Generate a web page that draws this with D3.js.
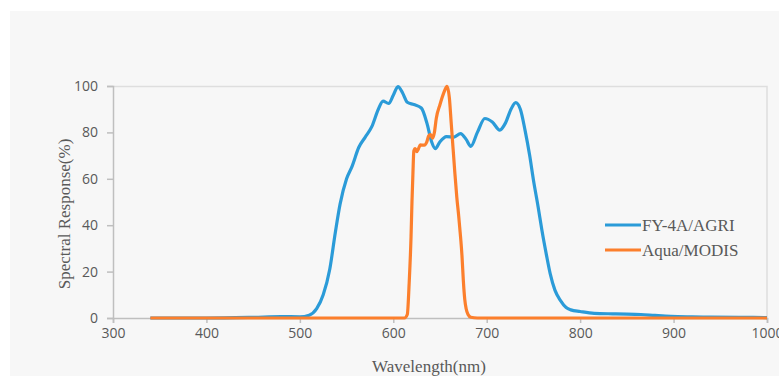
<!DOCTYPE html>
<html>
<head>
<meta charset="utf-8">
<script src="https://cdn.jsdelivr.net/npm/d3@7"></script>
<style>
  body { margin: 0; background: #fff; }
</style>
</head>
<body>
<div id="chart"></div>
<script>
// Wavelength (nm) and spectral response (%)
const agriWave = [340, 400, 450, 480, 500, 510, 518, 525, 532, 538, 543, 550, 556, 563, 570, 577, 584, 589, 595, 600, 605, 610, 615, 622, 630, 636, 641, 645, 650, 657, 665, 672, 678, 683, 690, 698, 706, 714, 720, 726, 731, 736, 741, 746, 750, 755, 759, 764, 768, 773, 779, 785, 790, 800, 815, 835, 850, 865, 880, 897, 920, 940, 970, 1000];
const agriResp = [0, 0, 0.3, 0.6, 0.5, 1.2, 4, 10, 21, 37, 49, 60, 65.5, 73.5, 78, 82.5, 90, 93.5, 92.5, 96, 99.7, 97, 93, 92, 90.5, 84, 76, 73, 76, 78.2, 78, 79.5, 77, 74, 80, 86, 84.5, 81, 84, 90, 92.8, 90, 81, 70, 59.5, 48, 38, 27, 19, 12, 7.5, 4.5, 3.5, 2.8, 2.0, 1.8, 1.7, 1.5, 1.1, 0.7, 0.5, 0.4, 0.3, 0.2];

const modisWave = [340, 400, 500, 600, 612, 615, 617, 619, 620, 621, 622, 623.5, 625, 627, 629, 632, 634, 636, 638, 640, 642, 644, 646, 650, 654, 657.5, 660, 662, 664, 666, 668, 670, 672, 673.5, 675, 676.5, 678, 680, 683, 690, 800, 1000];
const modisResp = [0, 0, 0, 0, 0, 1.5, 15, 35, 50, 62, 72, 73, 71.7, 73, 74.6, 74.5, 74.6, 76, 78.6, 79, 77.5, 80, 86, 92, 97, 99.8, 95, 84, 73, 62, 52, 44, 35, 27, 16, 8, 4, 1.5, 0.3, 0, 0, 0];

const seriesNames = ['FY-4A/AGRI', 'Aqua/MODIS'];
const seriesColors = ['#2b9bd8', '#fc7f2c'];
const xTicks = [300, 400, 500, 600, 700, 800, 900, 1000];
const yTicks = [0, 20, 40, 60, 80, 100];

const width = 779, height = 376;
const margin = { top: 86, right: 12, bottom: 58, left: 113 };
const plotW = width - margin.left - margin.right;
const plotH = height - margin.top - margin.bottom;

const svg = d3.select('#chart').append('svg')
  .attr('width', width)
  .attr('height', height);

// Chart background panel
svg.append('rect')
  .attr('x', 10).attr('y', 11)
  .attr('width', width - 10).attr('height', height - 11)
  .attr('fill', '#f7f7f7');

const g = svg.append('g')
  .attr('transform', 'translate(' + margin.left + ',' + margin.top + ')');

const x = d3.scaleLinear().domain([300, 1000]).range([0, plotW]);
const y = d3.scaleLinear().domain([0, 100]).range([plotH, 0]);

// Plot area border (top and right)
g.append('path')
  .attr('d', 'M0,0.5H' + plotW + 'V' + plotH)
  .attr('fill', 'none')
  .attr('stroke', '#dedede')
  .attr('stroke-width', 1.5);

// Axes
const xAxis = g.append('g')
  .attr('transform', 'translate(0,' + plotH + ')')
  .call(d3.axisBottom(x).tickValues(xTicks).tickFormat(d3.format('d')).tickSize(5).tickPadding(5));
const yAxis = g.append('g')
  .call(d3.axisLeft(y).tickValues(yTicks).tickSize(6).tickPadding(9));

[xAxis, yAxis].forEach(a => {
  a.select('.domain').attr('stroke', '#bfbfbf').attr('stroke-width', 1.5);
  a.selectAll('.tick line').attr('stroke', '#bfbfbf').attr('stroke-width', 1.5);
  a.selectAll('.tick text')
    .attr('fill', '#595959')
    .style('font-family', '"Open Sans", sans-serif')
    .style('font-size', '14px');
});

// Lines
const line = d3.line()
  .x(d => x(d[0]))
  .y(d => y(d[1]))
  .curve(d3.curveMonotoneX);

const series = [
  d3.zip(agriWave, agriResp),
  d3.zip(modisWave, modisResp)
];

series.forEach((s, i) => {
  g.append('path')
    .datum(s)
    .attr('d', line)
    .attr('fill', 'none')
    .attr('stroke', seriesColors[i])
    .attr('stroke-width', 3.2)
    .attr('stroke-linejoin', 'round');
});

// Axis titles
svg.append('text')
  .attr('x', 429).attr('y', 372)
  .attr('text-anchor', 'middle')
  .attr('fill', '#595959')
  .style('font-family', '"Liberation Serif", serif')
  .style('font-size', '17px')
  .text('Wavelength(nm)');

svg.append('text')
  .attr('transform', 'translate(70,214) rotate(-90)')
  .attr('text-anchor', 'middle')
  .attr('fill', '#595959')
  .style('font-family', '"Liberation Serif", serif')
  .style('font-size', '17px')
  .text('Spectral Response(%)');

// Legend
const legend = svg.append('g');
seriesNames.forEach((name, i) => {
  const ly = 225 + i * 25;
  legend.append('line')
    .attr('x1', 605).attr('x2', 641)
    .attr('y1', ly).attr('y2', ly)
    .attr('stroke', seriesColors[i])
    .attr('stroke-width', 3.2);
  legend.append('text')
    .attr('x', 642).attr('y', ly + 6)
    .attr('fill', '#595959')
    .style('font-family', '"Liberation Serif", serif')
    .style('font-size', '17px')
    .text(name);
});
</script>
</body>
</html>
